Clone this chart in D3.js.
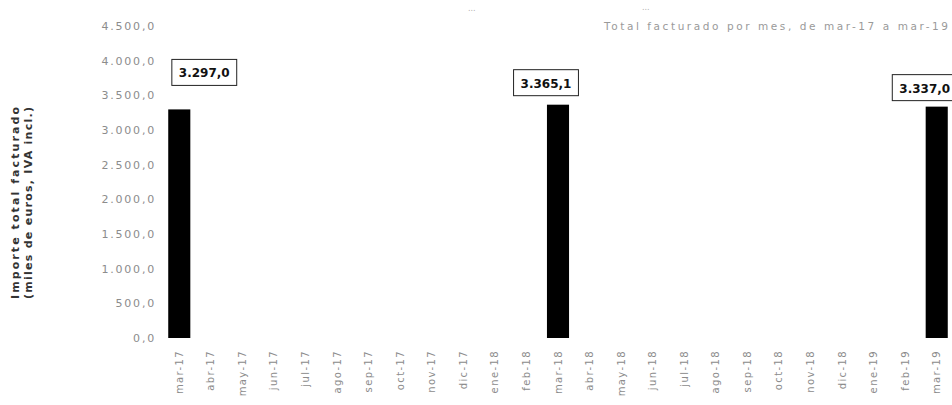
<!DOCTYPE html>
<html lang="es">
<head>
<meta charset="utf-8">
<script src="https://cdn.jsdelivr.net/npm/d3@7/dist/d3.min.js"></script>
<style>
  html, body { margin: 0; padding: 0; background: #fff; }
  svg { display: block; }
  .tick-y text { font-family: "DejaVu Sans", sans-serif; font-size: 11px; fill: #8c8c8c; letter-spacing: 1.8px; }
  .tick-x text { font-family: "DejaVu Sans", sans-serif; font-size: 10px; fill: #8c8c8c; letter-spacing: 1.4px; }
  .callout text { font-family: "DejaVu Sans", sans-serif; font-weight: bold; font-size: 12px; fill: #111; }
  .ytitle { font-family: "DejaVu Sans", sans-serif; font-size: 11px; font-weight: bold; fill: #333; }
  .title { font-family: "DejaVu Sans", sans-serif; font-size: 10.5px; fill: #9a9a9a; }
  .dots { font-family: "DejaVu Sans", sans-serif; font-size: 8px; fill: #b0b0b0; }
</style>
</head>
<body>
<svg id="chart" width="952" height="405"></svg>
<script>
// Months shown on the category axis
const months = [
  "mar-17", "abr-17", "may-17", "jun-17", "jul-17", "ago-17", "sep-17", "oct-17",
  "nov-17", "dic-17", "ene-18", "feb-18", "mar-18", "abr-18", "may-18", "jun-18",
  "jul-18", "ago-18", "sep-18", "oct-18", "nov-18", "dic-18", "ene-19", "feb-19", "mar-19"
];

// Monthly totals (only March has a recorded value)
const totals = [
  3297.0, null, null, null, null, null, null, null,
  null, null, null, null, 3365.1, null, null, null,
  null, null, null, null, null, null, null, null, 3337.0
];

// Value axis ticks
const yTicks = [0, 500, 1000, 1500, 2000, 2500, 3000, 3500, 4000, 4500];

// Where each value callout has been dragged to, relative to its bar top
const calloutShift = { "mar-17": [25, -24], "mar-18": [-12, -9], "mar-19": [-12, -6] };

const svg = d3.select("#chart");

const x = d3.scaleBand()
  .domain(months)
  .range([163.5, 952.5])
  .paddingInner(0.3)
  .paddingOuter(0.15);

const y = d3.scaleLinear()
  .domain([0, 4500])
  .range([338, 26]);

const esFormat = d3.formatLocale({
  decimal: ",", thousands: ".", grouping: [3], currency: ["", " €"]
}).format(",.1f");

// Value axis (labels only)
const yAxis = svg.append("g")
  .attr("class", "tick-y")
  .attr("transform", "translate(156,0)")
  .call(d3.axisLeft(y).tickValues(yTicks).tickFormat(esFormat).tickSize(0).tickPadding(0));
yAxis.select(".domain").remove();

// Month axis, labels rotated upward
const xAxis = svg.append("g")
  .attr("class", "tick-x")
  .attr("transform", "translate(0,350)")
  .call(d3.axisBottom(x).tickSize(0).tickPadding(0));
xAxis.select(".domain").remove();
xAxis.selectAll("text")
  .attr("transform", "rotate(-90)")
  .attr("text-anchor", "end")
  .attr("x", 0)
  .attr("y", 0)
  .attr("dy", "0.35em");

// Bars
const rows = months.map((m, i) => ({ month: m, value: totals[i] }))
  .filter(d => d.value != null);

svg.append("g")
  .selectAll("rect")
  .data(rows)
  .join("rect")
  .attr("x", d => x(d.month))
  .attr("y", d => y(d.value))
  .attr("width", x.bandwidth())
  .attr("height", d => y(0) - y(d.value))
  .attr("fill", "#000");

// Boxed value callouts
const callouts = svg.append("g")
  .attr("class", "callout")
  .selectAll("g")
  .data(rows)
  .join("g");

callouts.each(function (d) {
  const g = d3.select(this);
  const [dx, dy] = calloutShift[d.month] || [0, -6];
  const cx = x(d.month) + x.bandwidth() / 2 + dx;
  const bottom = y(d.value) + dy;
  const t = g.append("text")
    .attr("text-anchor", "middle")
    .attr("x", cx)
    .attr("y", bottom - 8)
    .text(esFormat(d.value));
  const w = t.node().getComputedTextLength() + 14;
  const h = 26;
  g.insert("rect", "text")
    .attr("x", cx - w / 2)
    .attr("y", bottom - h)
    .attr("width", w)
    .attr("height", h)
    .attr("fill", "#fff")
    .attr("stroke", "#222")
    .attr("stroke-width", 1);
});

// Value axis title (two lines)
const yTitle = svg.append("text")
  .attr("class", "ytitle")
  .attr("transform", "translate(19,203) rotate(-90)")
  .attr("text-anchor", "middle");
yTitle.append("tspan").attr("x", 0).attr("dy", 0)
  .attr("textLength", 192).attr("lengthAdjust", "spacing")
  .text("Importe total facturado");
yTitle.append("tspan").attr("x", 0).attr("dy", "1.2em")
  .attr("textLength", 192).attr("lengthAdjust", "spacing")
  .text("(miles de euros, IVA incl.)");

// Chart title
svg.append("text")
  .attr("class", "title")
  .attr("x", 604)
  .attr("y", 30)
  .attr("textLength", 344)
  .attr("lengthAdjust", "spacing")
  .text("Total facturado por mes, de mar-17 a mar-19");

// Faint ellipses above the plot
svg.append("text").attr("class", "dots").attr("x", 468).attr("y", 11).text("...");
svg.append("text").attr("class", "dots").attr("x", 642).attr("y", 10).text("...");
</script>
</body>
</html>
